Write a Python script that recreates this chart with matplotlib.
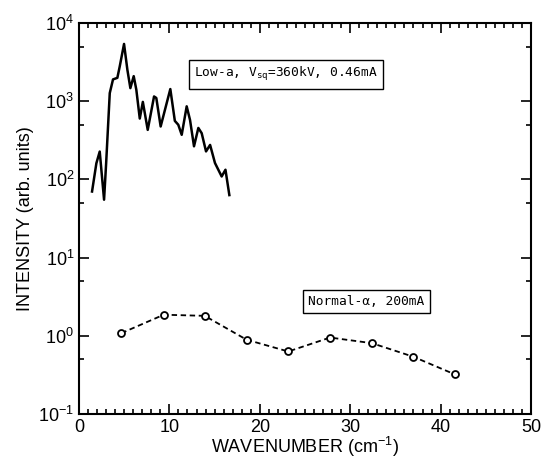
import matplotlib
matplotlib.use("Agg")
import matplotlib.pyplot as plt
from matplotlib.ticker import MultipleLocator, LogLocator, NullFormatter

# low-alpha mode, solid curve
low_x = [1.44, 1.92, 2.29, 2.77, 3.0, 3.4, 3.76, 4.24, 4.5, 4.98, 5.35, 5.68,
         6.05, 6.34, 6.72, 7.06, 7.6, 8.3, 8.55, 9.03, 10.1, 10.6, 10.98,
         11.36, 11.91, 12.28, 12.72, 13.2, 13.57, 14.05, 14.5, 15.04, 15.78,
         16.2, 16.63]
low_y = [70, 161, 227, 55, 161, 1270, 1900, 1990, 2770, 5400, 2520, 1470,
         2090, 1400, 600, 980, 430, 1150, 1100, 475, 1430, 560, 500,
         372, 860, 575, 265, 455, 390, 228, 276, 162, 109,
         133, 63]

# normal-alpha mode, dashed with circles
norm_x = [4.68, 9.37, 13.9, 18.55, 23.15, 27.77, 32.4, 36.98, 41.6]
norm_y = [1.08, 1.86, 1.8, 0.89, 0.63, 0.95, 0.805, 0.54, 0.32]

plt.rcParams['font.family'] = ['Liberation Sans', 'DejaVu Sans']
plt.rcParams['mathtext.fontset'] = 'custom'
plt.rcParams['mathtext.rm'] = 'Liberation Sans'
plt.rcParams['mathtext.it'] = 'Liberation Sans:italic'
plt.rcParams['mathtext.default'] = 'regular'
plt.rcParams['axes.unicode_minus'] = False

fig = plt.figure(figsize=(5.42, 4.62), dpi=100)
ax = fig.add_axes([0.1458, 0.1039, 0.8339, 0.8463])

ax.plot(low_x, low_y, color='black', lw=1.8)
ax.plot(norm_x, norm_y, color='black', lw=1.3, ls=(0, (3, 2)),
        marker='o', ms=5, mfc='white', mec='black', mew=1.3)

ax.set_yscale('log')
ax.set_xlim(0, 50)
ax.set_ylim(0.1, 1e4)
ax.xaxis.set_major_locator(MultipleLocator(10))
ax.xaxis.set_minor_locator(MultipleLocator(1))
ax.yaxis.set_major_locator(LogLocator(base=10, numticks=10))
ax.yaxis.set_minor_locator(LogLocator(base=10, subs=[5], numticks=10))
ax.yaxis.set_minor_formatter(NullFormatter())

ax.tick_params(which='both', direction='in', top=True, right=True,
               width=1.2, labelsize=13)
ax.tick_params(which='major', length=7)
ax.tick_params(which='minor', length=3.5)
for s in ax.spines.values():
    s.set_linewidth(1.5)

ax.set_xlabel('WAVENUMBER (cm$^{-1}$)', fontsize=13, labelpad=-1)
ax.set_ylabel('INTENSITY (arb. units)', fontsize=13, labelpad=3)

box = dict(boxstyle='square,pad=0.4', fc='white', ec='black', lw=1.0)
ax.text(22.9, 2200, 'Low-a, V$_{sq}$=360kV, 0.46mA', family='DejaVu Sans Mono',
        fontsize=9.3, ha='center', va='center', bbox=box)
ax.text(31.8, 2.75, 'Normal-\u03b1, 200mA', family='DejaVu Sans Mono',
        fontsize=9.3, ha='center', va='center', bbox=box)

fig.savefig('out.png', dpi=100)
